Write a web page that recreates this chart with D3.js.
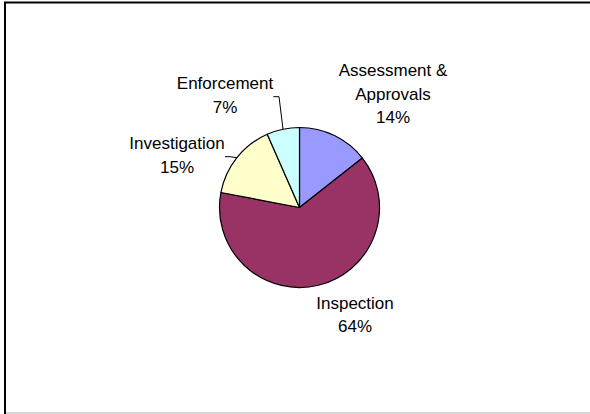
<!DOCTYPE html>
<html>
<head>
<meta charset="utf-8">
<script src="https://d3js.org/d3.v7.min.js"></script>
<style>
  body { margin: 0; background: #fff; }
  text { font-family: "Liberation Sans", Arial, sans-serif; font-size: 17px; fill: #000; }
</style>
</head>
<body>
<svg id="chart"></svg>
<script>
  // Data
  const categories = ["Assessment & Approvals", "Inspection", "Investigation", "Enforcement"];
  const values = [14.4, 63.6, 15.4, 6.6];
  const labelLines = [["Assessment &", "Approvals"], ["Inspection"], ["Investigation"], ["Enforcement"]];
  const colors = ["#9999FF", "#993366", "#FFFFCC", "#CCFFFF"];

  // label placement relative to pie centre (first-line baseline, layout only)
  const labelOffsets = [[93.5, -131.5], [55.5, 101.3], [-122.5, -58.5], [-74.5, -118.5]];
  // leader elbows (null = no leader)
  const leaders = [null, null, [[-69.5, -50.8], [-74.5, -50.8]], [[-20.5, -110.8], [-26.2, -110.8]]];

  const width = 590, height = 414;
  const cx = 299.5, cy = 207.5, radius = 80;

  const svg = d3.select("#chart")
    .attr("width", width)
    .attr("height", height);

  // outer frame
  svg.append("line").attr("x1", 5).attr("x2", 5).attr("y1", 2).attr("y2", 414)
    .attr("stroke", "#000").attr("stroke-width", 2);
  svg.append("line").attr("x1", 4).attr("x2", 590).attr("y1", 2.5).attr("y2", 2.5)
    .attr("stroke", "#000").attr("stroke-width", 2);
  svg.append("line").attr("x1", 6).attr("x2", 590).attr("y1", 413).attr("y2", 413)
    .attr("stroke", "#c8c8c8").attr("stroke-width", 1.5);

  const g = svg.append("g").attr("transform", `translate(${cx},${cy})`);

  const pie = d3.pie().value(d => d).sort(null);
  const arc = d3.arc().innerRadius(0).outerRadius(radius);
  const arcs = pie(values);

  g.selectAll("path")
    .data(arcs)
    .enter()
    .append("path")
    .attr("d", arc)
    .attr("fill", (d, i) => colors[i])
    .attr("stroke", "#000")
    .attr("stroke-width", 1.2)
    .attr("stroke-linejoin", "round");

  const total = d3.sum(values);
  const pct = d3.format(".0%");

  // leader lines
  arcs.forEach((d, i) => {
    if (!leaders[i]) return;
    const mid = (d.startAngle + d.endAngle) / 2;
    const p0 = [Math.sin(mid) * radius, -Math.cos(mid) * radius];
    const pts = [p0].concat(leaders[i]);
    g.append("path")
      .attr("d", d3.line()(pts))
      .attr("fill", "none")
      .attr("stroke", "#000")
      .attr("stroke-width", 1);
  });

  // labels
  arcs.forEach((d, i) => {
    const lines = labelLines[i].concat([pct(values[i] / total)]);
    const t = g.append("text")
      .attr("text-anchor", "middle")
      .attr("transform", `translate(${labelOffsets[i][0]},${labelOffsets[i][1]})`);
    lines.forEach((s, j) => {
      t.append("tspan").attr("x", 0).attr("y", j * 23.5).text(s);
    });
  });
</script>
</body>
</html>
